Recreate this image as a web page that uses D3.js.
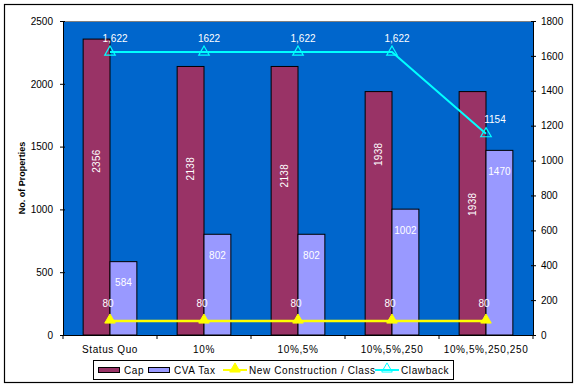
<!DOCTYPE html>
<html>
<head>
<meta charset="utf-8">
<script src="https://cdn.jsdelivr.net/npm/d3@7"></script>
<style>
  body { margin: 0; background: #fff; }
  svg { display: block; font-family: "Liberation Sans", Arial, sans-serif; }
</style>
</head>
<body>
<div id="chart"></div>
<script>
// chart values
const categories = ["Status Quo", "10%", "10%,5%", "10%,5%,250", "10%,5%,250,250"];
const capValues = [2356, 2138, 2138, 1938, 1938];
const cvaValues = [584, 802, 802, 1002, 1470];
const newConstruction = [80, 80, 80, 80, 80];
const clawback = [1622, 1622, 1622, 1622, 1154];
const clawbackLabels = ["1,622", "1622", "1,622", "1,622", "1154"];
const leftTicks = [0, 500, 1000, 1500, 2000, 2500];
const rightTicks = [0, 200, 400, 600, 800, 1000, 1200, 1400, 1600, 1800];

// little vertical nudges for the rotated Cap labels (Excel put them unevenly)
const capLabelNudge = [-26, -32, -25, -59, -9];

const width = 578, height = 387;
const plot = { left: 63, right: 533, top: 21, bottom: 335 };

const svg = d3.select("#chart").append("svg")
  .attr("width", width).attr("height", height);

// outer chart border
svg.append("rect")
  .attr("x", 4.5).attr("y", 4.5)
  .attr("width", 568).attr("height", 378)
  .attr("fill", "#fff").attr("stroke", "#000").attr("stroke-width", 1.2);

const x0 = d3.scaleBand().domain(categories).range([plot.left, plot.right]);
const x1 = d3.scaleBand().domain(["cap", "cva"]).range([0, x0.step()]).paddingOuter(0.75);
const yL = d3.scaleLinear().domain([0, 2500]).range([plot.bottom, plot.top]);
const yR = d3.scaleLinear().domain([0, 1800]).range([plot.bottom, plot.top]);

// plot area
svg.append("rect")
  .attr("x", plot.left).attr("y", plot.top)
  .attr("width", plot.right - plot.left).attr("height", plot.bottom - plot.top)
  .attr("fill", "#0066cc");
svg.append("line")
  .attr("x1", plot.left).attr("x2", plot.right)
  .attr("y1", plot.top + 0.5).attr("y2", plot.top + 0.5)
  .attr("stroke", "#808080");

// bars
const groups = svg.append("g").selectAll("g")
  .data(categories)
  .join("g")
  .attr("transform", d => `translate(${x0(d)},0)`);

groups.append("rect")
  .attr("x", x1("cap")).attr("y", (d, i) => yL(capValues[i]))
  .attr("width", x1.bandwidth()).attr("height", (d, i) => yL(0) - yL(capValues[i]))
  .attr("fill", "#993366").attr("stroke", "#000").attr("stroke-width", 1);

groups.append("rect")
  .attr("x", x1("cva")).attr("y", (d, i) => yL(cvaValues[i]))
  .attr("width", x1.bandwidth()).attr("height", (d, i) => yL(0) - yL(cvaValues[i]))
  .attr("fill", "#9999ff").attr("stroke", "#000").attr("stroke-width", 1);

// bar labels
groups.append("text")
  .attr("transform", (d, i) => {
    const cx = x1("cap") + x1.bandwidth() / 2;
    const cy = (yL(capValues[i]) + yL(0)) / 2 + capLabelNudge[i];
    return `translate(${cx},${cy}) rotate(-90)`;
  })
  .attr("text-anchor", "middle").attr("dy", "0.35em")
  .attr("fill", "#fff").attr("font-size", 10).attr("letter-spacing", 0.3)
  .text((d, i) => capValues[i]);

groups.append("text")
  .attr("x", x1("cva") + x1.bandwidth() / 2)
  .attr("y", (d, i) => yL(cvaValues[i]) + 21)
  .attr("text-anchor", "middle").attr("dy", "0.35em")
  .attr("fill", "#fff").attr("font-size", 10)
  .text((d, i) => cvaValues[i]);

// lines on right axis
const cx = d => x0(d) + x0.step() / 2;
const line = d3.line().x(d => cx(d[0])).y(d => yR(d[1]));
const tri = d3.symbol().type(d3.symbolTriangle).size(48);

svg.append("path")
  .datum(categories.map((c, i) => [c, newConstruction[i]]))
  .attr("d", line).attr("fill", "none")
  .attr("stroke", "#ffff00").attr("stroke-width", 2.5);
svg.append("g").selectAll("path")
  .data(categories)
  .join("path")
  .attr("d", tri)
  .attr("transform", (d, i) => `translate(${cx(d)},${yR(newConstruction[i]) - 1})`)
  .attr("fill", "#ffff00").attr("stroke", "#ffff00");

svg.append("path")
  .datum(categories.map((c, i) => [c, clawback[i]]))
  .attr("d", line).attr("fill", "none")
  .attr("stroke", "#00ffff").attr("stroke-width", 2);
svg.append("g").selectAll("path")
  .data(categories)
  .join("path")
  .attr("d", tri)
  .attr("transform", (d, i) => `translate(${cx(d)},${yR(clawback[i])})`)
  .attr("fill", "none").attr("stroke", "#00ffff").attr("stroke-width", 1.2);

// line labels
svg.append("g").selectAll("text")
  .data(categories)
  .join("text")
  .attr("x", d => cx(d) - 2)
  .attr("y", (d, i) => yR(newConstruction[i]) - 18)
  .attr("text-anchor", "middle").attr("dy", "0.35em")
  .attr("fill", "#fff").attr("font-size", 10)
  .text((d, i) => newConstruction[i]);

svg.append("g").selectAll("text")
  .data(categories)
  .join("text")
  .attr("x", (d, i) => cx(d) + (i === 4 ? 9 : 5))
  .attr("y", (d, i) => yR(clawback[i]) - 14)
  .attr("text-anchor", "middle").attr("dy", "0.35em")
  .attr("fill", "#fff").attr("font-size", 10)
  .text((d, i) => clawbackLabels[i]);

// axes
const axL = svg.append("g")
  .attr("transform", `translate(${plot.left},0)`)
  .call(d3.axisLeft(yL).tickValues(leftTicks).tickFormat(d3.format("d")).tickSize(3).tickPadding(7));
axL.selectAll(".tick line").attr("x2", -3).attr("x1", 2);

const axR = svg.append("g")
  .attr("transform", `translate(${plot.right},0)`)
  .call(d3.axisRight(yR).tickValues(rightTicks).tickFormat(d3.format("d")).tickSize(3).tickPadding(5));
axR.selectAll(".tick line").attr("x1", -2).attr("x2", 3);

const axB = svg.append("g")
  .attr("transform", `translate(0,${plot.bottom})`)
  .call(d3.axisBottom(x0).tickSize(0).tickPadding(11));
axB.selectAll(".tick line").remove();
// tick marks between categories
axB.selectAll(".sep")
  .data(d3.range(categories.length + 1))
  .join("line")
  .attr("x1", i => plot.left + i * x0.step()).attr("x2", i => plot.left + i * x0.step())
  .attr("y1", 0).attr("y2", 4)
  .attr("stroke", "#000");

[axL, axR, axB].forEach(a => {
  a.select(".domain").attr("stroke", "#000").attr("stroke-width", 1);
  a.selectAll("text").attr("font-size", 10).attr("fill", "#000")
    .attr("font-family", "Liberation Sans, Arial, sans-serif");
});
axB.selectAll("text").attr("letter-spacing", 0.6);

svg.append("text")
  .attr("transform", `translate(22,${(plot.top + plot.bottom) / 2}) rotate(-90)`)
  .attr("text-anchor", "middle").attr("dy", "0.35em")
  .attr("font-size", 9).attr("font-weight", "bold")
  .text("No. of Properties");

// legend
const lg = svg.append("g").attr("transform", "translate(93,360)");
lg.append("rect").attr("x", 0.5).attr("y", 0.5).attr("width", 360).attr("height", 19)
  .attr("fill", "#fff").attr("stroke", "#000");

const legendItems = [
  { name: "Cap", kind: "bar", color: "#993366", x: 5 },
  { name: "CVA Tax", kind: "bar", color: "#9999ff", x: 55 },
  { name: "New Construction / Class", kind: "line", color: "#ffff00", x: 130, fill: true },
  { name: "Clawback", kind: "line", color: "#00ffff", x: 282, fill: false }
];
legendItems.forEach(it => {
  const g = lg.append("g").attr("transform", `translate(${it.x},10)`);
  if (it.kind === "bar") {
    g.append("rect").attr("x", 0.5).attr("y", -2.5).attr("width", 21).attr("height", 5)
      .attr("fill", it.color).attr("stroke", "#000");
  } else {
    g.append("line").attr("x1", 0).attr("x2", 24).attr("y1", 0).attr("y2", 0)
      .attr("stroke", it.color).attr("stroke-width", 2);
    g.append("path").attr("d", tri).attr("transform", "translate(12,-1)")
      .attr("fill", it.fill ? it.color : "none").attr("stroke", it.color);
  }
  g.append("text").attr("x", 26).attr("dy", "0.35em")
    .attr("font-size", 10).attr("letter-spacing", 0.6).text(it.name);
});
</script>
</body>
</html>
